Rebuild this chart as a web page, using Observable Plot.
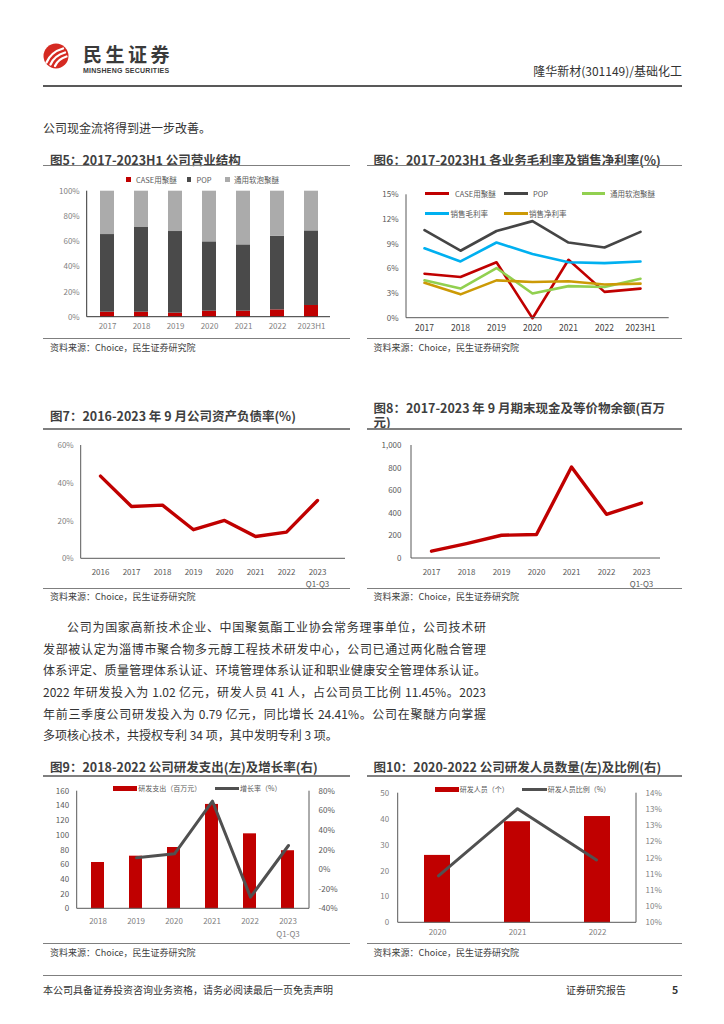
<!DOCTYPE html>
<html><head><meta charset="utf-8">
<script src="https://cdn.jsdelivr.net/npm/d3@7"></script>
<script src="https://cdn.jsdelivr.net/npm/@observablehq/plot@0.6"></script>
<style>
body{margin:0;background:#fff;}
#page{position:relative;width:724px;height:1024px;overflow:hidden;font-family:"Noto Sans CJK SC","Noto Sans",sans-serif;color:#333;background:#fff;}
.abs{position:absolute;white-space:nowrap;line-height:1.2;transform:translateY(-50%);}
.title{font-weight:bold;font-size:12.5px;color:#3f3f3f;}
.src{font-size:9px;color:#404040;}
.leg{font-size:7.5px;color:#595959;}
.para{font-size:12px;color:#333;width:443px;text-align:justify;text-align-last:justify;}
</style></head><body><div id="page"></div>
<script>
// ---------- data ----------
const years5 = ["2017","2018","2019","2020","2021","2022","2023H1"];
const series5 = ["CASE用聚醚","POP","通用软泡聚醚"];
const case5 = [4.0,4.0,3.2,4.8,4.8,5.8,9.3];
const pop5  = [61.6,67.2,64.8,55.0,52.6,58.5,59.2];
const soft5 = [34.4,28.8,32.0,40.2,42.6,35.7,31.5];
const yTicks5 = [0,20,40,60,80,100];

const years6 = ["2017","2018","2019","2020","2021","2022","2023H1"];
const series6 = ["CASE用聚醚","POP","通用软泡聚醚","销售毛利率","销售净利率"];
const case6  = [5.4,5.0,6.8,0.0,7.1,3.2,3.6];
const pop6   = [10.7,8.2,10.6,11.8,9.2,8.6,10.5];
const soft6  = [4.6,3.6,6.1,3.0,3.9,3.8,4.8];
const gross6 = [8.5,6.9,9.2,7.8,6.8,6.7,6.9];
const net6   = [4.3,2.9,4.6,4.4,4.5,4.1,4.2];
const yTicks6 = [0,3,6,9,12,15];

const years7 = ["2016","2017","2018","2019","2020","2021","2022","2023\nQ1-Q3"];
const debt7 = [43.8,27.7,28.4,15.4,20.3,11.8,14.1,30.9];
const yTicks7 = [0,20,40,60];

const years8 = ["2017","2018","2019","2020","2021","2022","2023\nQ1-Q3"];
const cash8 = [65,132,206,212,809,391,491];
const yTicks8 = [0,200,400,600,800,1000];

const years9 = ["2018","2019","2020","2021","2022","2023\nQ1-Q3"];
const rd9 = [63,71.6,83.4,142,102,79];
const growth9 = [null,12.0,16.1,69.8,-28.1,24.6];
const leftTicks9 = [0,20,40,60,80,100,120,140,160];
const rightTicks9 = [-40,-20,0,20,40,60,80];

const years10 = ["2020","2021","2022"];
const staff10 = [26,39,41];
const ratio10 = [11.45,13.52,11.94];
const leftTicks10 = [0,10,20,30,40,50];
const rightTicks10 = [10,10.5,11,11.5,12,12.5,13,13.5,14];
const rightLabels10 = ["10%","10%","11%","11%","12%","12%","13%","13%","14%"];

// ---------- helpers ----------
const page = document.getElementById("page");
const FONT = '"Noto Sans CJK SC","Noto Sans",sans-serif';
function txt(str, left, yc, cls, css){
  const d = document.createElement("div");
  d.className = "abs " + (cls||"");
  d.textContent = str;
  d.style.left = left + "px"; d.style.top = yc + "px";
  if (css) Object.assign(d.style, css);
  page.appendChild(d); return d;
}
function hline(x1, x2, y, color, th){
  const d = document.createElement("div");
  Object.assign(d.style,{position:"absolute",left:x1+"px",top:(y-th/2)+"px",width:(x2-x1)+"px",height:th+"px",background:color});
  page.appendChild(d);
}
function swatch(x1, x2, yc, h, color){ hline(x1, x2, yc, color, h); }
function placeSvg(svg, left, top){
  Object.assign(svg.style,{position:"absolute",left:left+"px",top:top+"px",background:"transparent",overflow:"visible",maxWidth:"none"});
  page.appendChild(svg);
}
function addFrame(svg, o, sides, color){
  const ns = "http://www.w3.org/2000/svg";
  const {W,H,ml,mr,mt,mb} = o;
  const segs = {left:[ml,mt,ml,H-mb], bottom:[ml,H-mb,W-mr,H-mb], right:[W-mr,mt,W-mr,H-mb]};
  for (const s of sides){
    const l = document.createElementNS(ns,"line");
    const [x1,y1,x2,y2] = segs[s];
    l.setAttribute("x1",x1); l.setAttribute("y1",y1); l.setAttribute("x2",x2); l.setAttribute("y2",y2);
    l.setAttribute("stroke",color||"#595959"); l.setAttribute("stroke-width",1);
    svg.appendChild(l);
  }
}
const baseStyle = {fontFamily:FONT, fontSize:"8px", color:"#595959", background:"transparent", overflow:"visible"};

// ---------- page header ----------
(function(){
  const ns="http://www.w3.org/2000/svg";
  const s=document.createElementNS(ns,"svg");
  s.setAttribute("width",28); s.setAttribute("height",28);
  s.innerHTML='<circle cx="14" cy="14" r="12.5" fill="#d52a22"/>'+
   '<path d="M4.5 20.5 Q9 10 21 6.5" stroke="#fff" stroke-width="2.3" fill="none" stroke-linecap="round"/>'+
   '<path d="M8.5 22.5 Q12.5 13.5 23 10.5" stroke="#fff" stroke-width="2.3" fill="none" stroke-linecap="round"/>'+
   '<path d="M13 24 Q16 17 24.5 14.5" stroke="#fff" stroke-width="2.3" fill="none" stroke-linecap="round"/>';
  Object.assign(s.style,{position:"absolute",left:"42px",top:"42px"});
  page.appendChild(s);
})();
txt("民生证券", 83, 53.5, "", {fontSize:"19px",fontWeight:"bold",letterSpacing:"3.5px",color:"#3a3a3a"});
txt("MINSHENG SECURITIES", 83, 71, "", {fontSize:"7px",fontWeight:"bold",fontFamily:'"Liberation Sans",Arial,sans-serif',color:"#3a3a3a",letterSpacing:"0.25px"});
txt("隆华新材(301149)/基础化工", 0, 71, "", {fontSize:"12px",color:"#333",left:"auto",right:(724-682)+"px"});
hline(43, 682, 86, "#595959", 1.5);
txt("公司现金流将得到进一步改善。", 43, 127.5, "", {fontSize:"12px",color:"#333"});

// ---------- chart titles / rules / sources ----------
txt("图5：2017-2023H1 公司营业结构", 50, 158.5, "title");
hline(43, 350, 165.7, "#7f7f7f", 1.5);
txt("图6：2017-2023H1 各业务毛利率及销售净利率(%)", 373.5, 158.5, "title");
hline(367, 682, 165.7, "#7f7f7f", 1.5);
hline(43, 350, 338.3, "#7f7f7f", 1.5);
hline(367, 682, 338.3, "#7f7f7f", 1.5);
txt("资料来源：Choice，民生证券研究院", 50, 347.5, "src");
txt("资料来源：Choice，民生证券研究院", 373.5, 347.5, "src");

txt("图7：2016-2023 年 9 月公司资产负债率(%)", 50, 415, "title");
hline(43, 350, 429, "#7f7f7f", 1.5);
txt("图8：2017-2023 年 9 月期末现金及等价物余额(百万\n元)", 373.5, 415.7, "title", {whiteSpace:"pre",lineHeight:"14.7px"});
hline(367, 682, 429, "#7f7f7f", 1.5);
hline(43, 350, 588.3, "#7f7f7f", 1.5);
hline(367, 682, 588.3, "#7f7f7f", 1.5);
txt("资料来源：Choice，民生证券研究院", 50, 597, "src");
txt("资料来源：Choice，民生证券研究院", 373.5, 597, "src");

const paraLines = [
  "公司为国家高新技术企业、中国聚氨酯工业协会常务理事单位，公司技术研",
  "发部被认定为淄博市聚合物多元醇工程技术研发中心，公司已通过两化融合管理",
  "体系评定、质量管理体系认证、环境管理体系认证和职业健康安全管理体系认证。",
  "2022 年研发投入为 1.02 亿元，研发人员 41 人，占公司员工比例 11.45%。2023",
  "年前三季度公司研发投入为 0.79 亿元，同比增长 24.41%。公司在聚醚方向掌握",
  "多项核心技术，共授权专利 34 项，其中发明专利 3 项。"
];
const paraY = [627, 648.7, 670.3, 692, 713.7, 735.3];
paraLines.forEach((s,i)=>{
  const d = txt(s, i===0?67:43, paraY[i], "para");
  if (i===0) d.style.width = "419px";
  if (i===paraLines.length-1) d.style.textAlignLast = "left";
});

txt("图9：2018-2022 公司研发支出(左)及增长率(右)", 50, 766, "title");
hline(43, 350, 776, "#7f7f7f", 1.5);
txt("图10：2020-2022 公司研发人员数量(左)及比例(右)", 373.5, 766, "title");
hline(367, 682, 776, "#7f7f7f", 1.5);
hline(43, 350, 943.3, "#7f7f7f", 1.5);
hline(367, 682, 943.3, "#7f7f7f", 1.5);
txt("资料来源：Choice，民生证券研究院", 50, 953, "src");
txt("资料来源：Choice，民生证券研究院", 373.5, 953, "src");

hline(43, 682, 975, "#7f7f7f", 1);
txt("本公司具备证券投资咨询业务资格，请务必阅读最后一页免责声明", 43, 990, "", {fontSize:"10px",color:"#333"});
txt("证券研究报告", 566, 990, "", {fontSize:"10px",color:"#333"});
txt("5", 672, 990, "", {fontSize:"10.5px",fontWeight:"bold",color:"#333"});

// ---------- Chart 5: stacked bars ----------
{
  const o = {W:307,H:166,ml:43.7,mr:20,mt:18.7,mb:21.3};
  const vals = [case5,pop5,soft5];
  const table = series5.flatMap((s,i)=>years5.map((y,j)=>({year:y,series:s,value:vals[i][j]})));
  const svg = Plot.plot({
    width:o.W,height:o.H,marginLeft:o.ml,marginRight:o.mr,marginTop:o.mt,marginBottom:o.mb,
    style:baseStyle,
    x:{domain:years5,paddingInner:0.6,paddingOuter:0.3},
    y:{domain:[0,100]},
    color:{domain:series5,range:["#c00000","#4a4a4a","#ababab"]},
    marks:[
      Plot.barY(table,{x:"year",y:"value",fill:"series",order:series5}),
      Plot.axisY({ticks:yTicks5,tickFormat:d=>d+"%",tickSize:0,tickPadding:7.5,label:null,fill:"#7f7f7f",fontSize:8}),
      Plot.axisX({tickSize:0,tickPadding:6,label:null,fill:"#7f7f7f",fontSize:8})
    ]
  });
  addFrame(svg,o,["left","bottom"],"#333");
  placeSvg(svg,43,172);
  const lc = ["#c00000","#4a4a4a","#ababab"];
  swatch(126,130.5,179.3,4.5,lc[0]); txt(series5[0],136,179.3,"leg");
  swatch(186.5,191,179.3,4.5,lc[1]); txt(series5[1],196.5,179.3,"leg");
  swatch(225,229.5,179.3,4.5,lc[2]); txt(series5[2],234,179.3,"leg");
}

// ---------- Chart 6: multi-line ----------
{
  const o = {W:310,H:166,ml:41,mr:6.3,mt:22.3,mb:20.3};
  const vals = [case6,pop6,soft6,gross6,net6];
  const colors = ["#c00000","#454545","#92d050","#00b0f0","#cc9a06"];
  const table = series6.flatMap((s,i)=>years6.map((y,j)=>({year:y,series:s,value:vals[i][j]})));
  const svg = Plot.plot({
    width:o.W,height:o.H,marginLeft:o.ml,marginRight:o.mr,marginTop:o.mt,marginBottom:o.mb,
    style:baseStyle,
    x:{type:"point",domain:years6,range:[59,275],padding:0},
    y:{domain:[0,15]},
    color:{domain:series6,range:colors},
    marks:[
      Plot.line(table,{x:"year",y:"value",stroke:"series",z:"series",strokeWidth:2.6}),
      Plot.axisY({ticks:yTicks6,tickFormat:d=>d+"%",tickSize:0,tickPadding:8,label:null,fill:"#595959",fontSize:8}),
      Plot.axisX({tickSize:0,tickPadding:7,label:null,fill:"#404040",fontSize:8.5})
    ]
  });
  addFrame(svg,o,["left","bottom"],"#595959");
  placeSvg(svg,365,172);
  swatch(425,449,193.3,2.6,colors[0]); txt(series6[0],455,193.3,"leg");
  swatch(504,528,193.3,2.6,colors[1]); txt(series6[1],533,193.3,"leg");
  swatch(582,605,193.3,2.6,colors[2]); txt(series6[2],610,193.3,"leg");
  swatch(425,449,213.3,2.6,colors[3]); txt(series6[3],450.5,213.3,"leg");
  swatch(504,528,213.3,2.6,colors[4]); txt(series6[4],529,213.3,"leg");
}

// ---------- Chart 7: debt ratio ----------
{
  const o = {W:307,H:153,ml:37.7,mr:5,mt:10,mb:29.7};
  const svg = Plot.plot({
    width:o.W,height:o.H,marginLeft:o.ml,marginRight:o.mr,marginTop:o.mt,marginBottom:o.mb,
    style:baseStyle,
    x:{type:"point",domain:years7,range:[54.3,277],padding:0},
    y:{domain:[0,60]},
    marks:[
      Plot.line(years7.map((y,i)=>({year:y,v:debt7[i]})),{x:"year",y:"v",stroke:"#c00000",strokeWidth:3.4}),
      Plot.axisY({ticks:yTicks7,tickFormat:d=>d+"%",tickSize:0,tickPadding:7.5,label:null,fill:"#7f7f7f",fontSize:8}),
      Plot.axisX({tickSize:0,tickPadding:7.7,label:null,fill:"#595959",fontSize:8,lineHeight:1.5})
    ]
  });
  addFrame(svg,o,["left","bottom"],"#595959");
  placeSvg(svg,43,435);
}

// ---------- Chart 8: cash ----------
{
  const o = {W:310,H:153,ml:46,mr:15,mt:10,mb:30};
  const svg = Plot.plot({
    width:o.W,height:o.H,marginLeft:o.ml,marginRight:o.mr,marginTop:o.mt,marginBottom:o.mb,
    style:baseStyle,
    x:{type:"point",domain:years8,range:[63.7,278],padding:0},
    y:{domain:[0,1000]},
    marks:[
      Plot.line(years8.map((y,i)=>({year:y,v:cash8[i]})),{x:"year",y:"v",stroke:"#c00000",strokeWidth:3.4}),
      Plot.axisY({ticks:yTicks8,tickFormat:d3.format(","),tickSize:0,tickPadding:10,label:null,fill:"#595959",fontSize:8}),
      Plot.axisX({tickSize:0,tickPadding:8,label:null,fill:"#595959",fontSize:8,lineHeight:1.5})
    ]
  });
  addFrame(svg,o,["left","bottom"],"#595959");
  placeSvg(svg,365,435);
}

// ---------- Chart 9: R&D spend + growth ----------
{
  const o = {W:307,H:163,ml:33.7,mr:41,mt:10.7,mb:34.7};
  const xOpt = {domain:years9,paddingInner:0.654,paddingOuter:0.31};
  const bars = Plot.plot({
    width:o.W,height:o.H,marginLeft:o.ml,marginRight:o.mr,marginTop:o.mt,marginBottom:o.mb,
    style:baseStyle,
    x:xOpt, y:{domain:[0,160]},
    marks:[
      Plot.barY(years9.map((y,i)=>({year:y,v:rd9[i]})),{x:"year",y:"v",fill:"#c00000"}),
      Plot.axisY({ticks:leftTicks9,tickSize:0,tickPadding:8,label:null,fill:"#595959",fontSize:8}),
      Plot.axisX({tickSize:0,tickPadding:5.7,label:null,fill:"#7f7f7f",fontSize:8,lineHeight:1.65})
    ]
  });
  addFrame(bars,o,["left","bottom","right"],"#595959");
  placeSvg(bars,43,780);
  const line = Plot.plot({
    width:o.W,height:o.H,marginLeft:o.ml,marginRight:o.mr,marginTop:o.mt,marginBottom:o.mb,
    style:baseStyle,
    x:{...xOpt,axis:null}, y:{domain:[-40,80]},
    marks:[
      Plot.line(years9.map((y,i)=>({year:y,g:growth9[i]})).filter(d=>d.g!=null),{x:"year",y:"g",stroke:"#505050",strokeWidth:3}),
      Plot.axisY({anchor:"right",ticks:rightTicks9,tickFormat:d=>d+"%",tickSize:0,tickPadding:9,label:null,fill:"#595959",fontSize:8})
    ]
  });
  placeSvg(line,43,780);
  swatch(113.3,136.7,788.3,5,"#c00000"); txt("研发支出（百万元）",138.3,788.3,"leg",{fontSize:"7px"});
  swatch(215,239,788.3,3,"#505050"); txt("增长率（%）",240,788.3,"leg",{fontSize:"7px"});
}

// ---------- Chart 10: R&D staff + ratio ----------
{
  const o = {W:310,H:163,ml:32.7,mr:39,mt:12.7,mb:20.7};
  const xOpt = {domain:years10,paddingInner:0.676,paddingOuter:0.32};
  const bars = Plot.plot({
    width:o.W,height:o.H,marginLeft:o.ml,marginRight:o.mr,marginTop:o.mt,marginBottom:o.mb,
    style:baseStyle,
    x:xOpt, y:{domain:[0,50]},
    marks:[
      Plot.barY(years10.map((y,i)=>({year:y,v:staff10[i]})),{x:"year",y:"v",fill:"#c00000"}),
      Plot.axisY({ticks:leftTicks10,tickSize:0,tickPadding:9,label:null,fill:"#7f7f7f",fontSize:8}),
      Plot.axisX({tickSize:0,tickPadding:6.4,label:null,fill:"#7f7f7f",fontSize:8})
    ]
  });
  addFrame(bars,o,["left","bottom","right"],"#595959");
  placeSvg(bars,365,780);
  const line = Plot.plot({
    width:o.W,height:o.H,marginLeft:o.ml,marginRight:o.mr,marginTop:o.mt,marginBottom:o.mb,
    style:baseStyle,
    x:{...xOpt,axis:null}, y:{domain:[10,14]},
    marks:[
      Plot.line(years10.map((y,i)=>({year:y,r:ratio10[i]})),{x:"year",y:"r",stroke:"#505050",strokeWidth:3}),
      Plot.axisY({anchor:"right",ticks:rightTicks10,tickFormat:d=>rightLabels10[rightTicks10.indexOf(d)],tickSize:0,tickPadding:9,label:null,fill:"#7f7f7f",fontSize:8})
    ]
  });
  placeSvg(line,365,780);
  swatch(435.3,458.7,789.3,5,"#c00000"); txt("研发人员（个）",459.7,789.3,"leg",{fontSize:"7px"});
  swatch(522,547,789.3,3,"#505050"); txt("研发人员比例（%）",547.7,789.3,"leg",{fontSize:"7px"});
}
</script>
</body></html>
